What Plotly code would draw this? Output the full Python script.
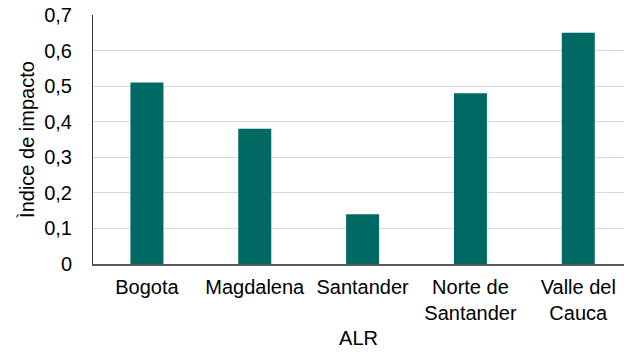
import plotly.graph_objects as go

# Impact index by ALR
categories = ["Bogota", "Magdalena", "Santander", "Norte de<br>Santander", "Valle del<br>Cauca"]
impact_index = [0.51, 0.38, 0.14, 0.48, 0.65]
y_tick_values = [0, 0.1, 0.2, 0.3, 0.4, 0.5, 0.6, 0.7]
y_tick_labels = ["0", "0,1", "0,2", "0,3", "0,4", "0,5", "0,6", "0,7"]

font_family = "Liberation Sans, Arial, sans-serif"

fig = go.Figure(
    go.Bar(
        x=list(range(len(categories))),
        y=impact_index,
        width=0.306,
        marker=dict(color="#006964", line=dict(width=0)),
        hoverinfo="skip",
    )
)

fig.update_layout(
    width=624,
    height=353,
    margin=dict(l=93, r=0, t=15, b=89),
    paper_bgcolor="white",
    plot_bgcolor="white",
    showlegend=False,
    separators=",.",
    font=dict(family=font_family, size=20, color="#000000"),
    xaxis=dict(
        range=[-0.5, 4.424],
        tickmode="array",
        tickvals=list(range(len(categories))),
        ticktext=categories,
        showgrid=False,
        showline=True,
        linecolor="#595959",
        linewidth=1.5,
        ticks="",
        ticklabelstandoff=4,
        tickfont=dict(size=20),
        title=dict(text="ALR", font=dict(size=20), standoff=8),
        zeroline=False,
    ),
    yaxis=dict(
        range=[0, 0.7],
        tickmode="array",
        tickvals=y_tick_values,
        ticktext=y_tick_labels,
        showgrid=True,
        gridcolor="#d9d9d9",
        gridwidth=1,
        showline=True,
        linecolor="#404040",
        linewidth=1,
        ticks="",
        ticklabelstandoff=16,
        tickfont=dict(size=20),
        title=dict(text="Ìndice de impacto", font=dict(size=20), standoff=4),
        zeroline=False,
    ),
)

fig.write_html("out.html")
